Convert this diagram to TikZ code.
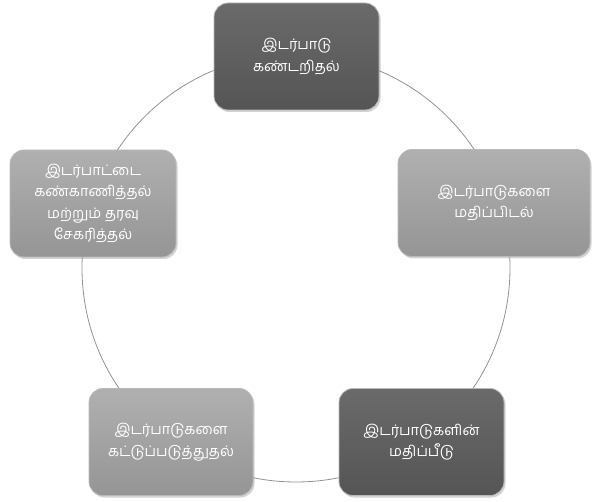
\documentclass[tikz,border=0pt]{standalone}
\usepackage{fontspec}
\newfontfamily\tamilfont[Script=Tamil]{Hind Madurai}
\usetikzlibrary{shadows}
\definecolor{darkbox}{HTML}{555555}
\definecolor{darkboxtop}{HTML}{6A6A6A}
\definecolor{lightbox}{HTML}{959595}
\definecolor{lightboxtop}{HTML}{B0B0B0}
\definecolor{ringline}{HTML}{939393}
\begin{document}
\begin{tikzpicture}[x=1pt,y=-1pt,
                    line width=0.8pt]
    \tikzstyle{stage}=[rounded corners=14pt,minimum width=165pt,minimum height=107pt,
                       align=center,text=white,draw=gray!55,
                       font=\tamilfont\fontsize{14.5}{21.5}\selectfont,
                       drop shadow={shadow xshift=1.5pt,shadow yshift=-2pt,opacity=0.35}]
    \tikzstyle{darkstage}=[stage,top color=darkboxtop,bottom color=darkbox]
    \tikzstyle{lightstage}=[stage,top color=lightboxtop,bottom color=lightbox]

    \useasboundingbox (0,0) rectangle (594,502);

    % ring behind the stages
    \coordinate (hub) at (296,268);
    \draw[ringline] (hub) circle (214pt);

    \node[darkstage] (detect) at (296.5,56.5) {இடர்பாடு\\கண்டறிதல்};
    \node[lightstage,minimum width=192pt] (assess) at (494,203) {இடர்பாடுகளை\\மதிப்பிடல்};
    \node[darkstage] (review) at (421.5,442) {இடர்பாடுகளின்\\மதிப்பீடு};
    \node[lightstage,minimum width=164pt] (control) at (171,442) {இடர்பாடுகளை\\கட்டுப்படுத்துதல்};
    \node[lightstage,minimum width=166pt] (monitor) at (93,203.5) {இடர்பாட்டை\\கண்காணித்தல்\\மற்றும் தரவு\\சேகரித்தல்};
\end{tikzpicture}
\end{document}
